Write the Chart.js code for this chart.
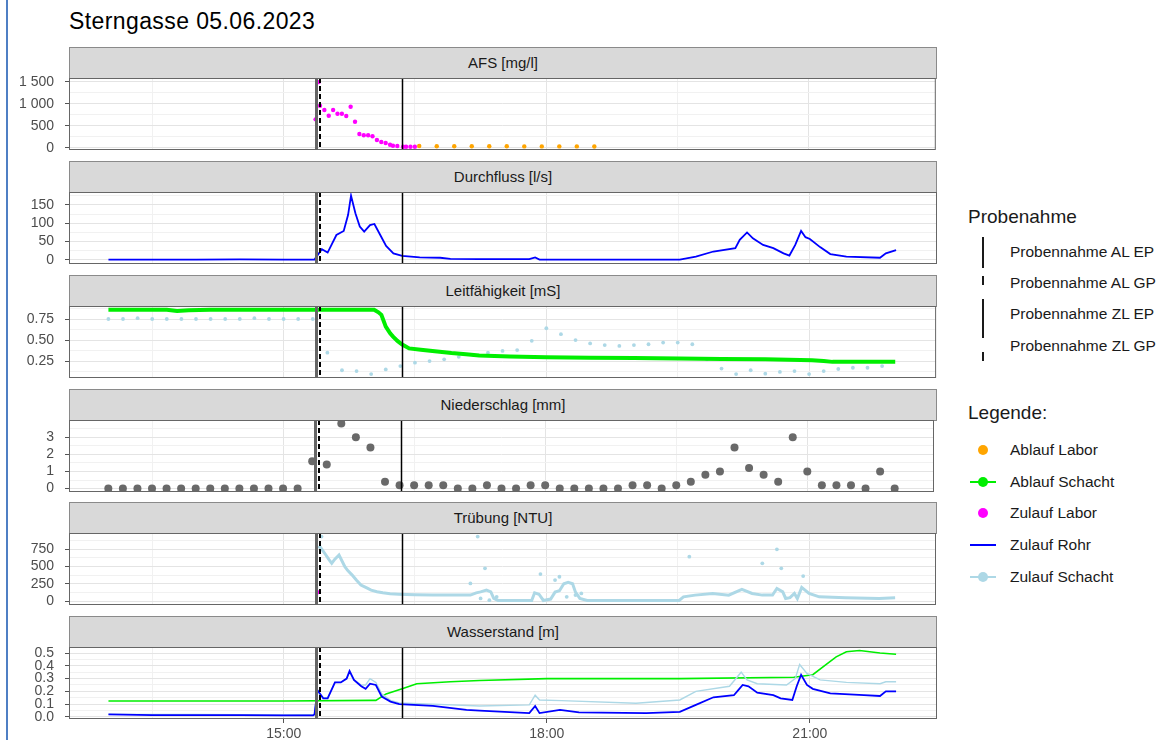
<!DOCTYPE html>
<html lang="de">
<head>
<meta charset="UTF-8">
<title>Sterngasse 05.06.2023</title>
<script src="https://cdn.jsdelivr.net/npm/chart.js"></script>
<style>
  body { margin: 0; width: 1167px; height: 740px; overflow: hidden; background: #fff; position: relative;
         font-family: "Liberation Sans", Arial, sans-serif; color: #1a1a1a; }
  .frame { position: absolute; left: 6px; top: 0; width: 2px; height: 740px; background: #4f7fc4; }
  .title { position: absolute; left: 69px; top: 7px; font-size: 23px; letter-spacing: 0.4px; line-height: 28px; color: #000; }
  .strip { position: absolute; left: 69px; width: 866px; height: 30px; background: #d9d9d9;
           border: 1px solid #8a8a8a; text-align: center; font-size: 15px; line-height: 30px; }
  canvas { position: absolute; left: 0; }
  .lgt { position: absolute; left: 968px; font-size: 19px; line-height: 24px; }
  .lgi { position: absolute; left: 1010px; font-size: 15.5px; line-height: 20px; white-space: nowrap; }
  .vkey { position: absolute; left: 982px; width: 2px; height: 31px; }
  .hline { position: absolute; left: 970px; width: 26px; height: 2px; }
  .dot { position: absolute; width: 10px; height: 10px; border-radius: 50%; left: 978px; }
</style>
</head>
<body>
<div class="frame"></div>
<div class="title">Sterngasse 05.06.2023</div>

<div class="lgt" style="top:205px">Probenahme</div>
<div class="vkey" style="top:237px;background:#1a1a1a"></div>
<div class="lgi" style="top:242px">Probennahme AL EP</div>
<div class="vkey" style="top:268px;background:repeating-linear-gradient(to bottom, transparent 0 8px, #1a1a1a 8px 17px, transparent 17px 31px)"></div>
<div class="lgi" style="top:273px">Probennahme AL GP</div>
<div class="vkey" style="top:299px;background:#1a1a1a"></div>
<div class="lgi" style="top:304px">Probennahme ZL EP</div>
<div class="vkey" style="top:330px;background:repeating-linear-gradient(to bottom, #1a1a1a 0 8px, transparent 8px 22px, #1a1a1a 22px 31px)"></div>
<div class="lgi" style="top:336px">Probennahme ZL GP</div>

<div class="lgt" style="top:401px">Legende:</div>
<div class="dot" style="top:445px;background:#FFA500"></div>
<div class="lgi" style="top:440px">Ablauf Labor</div>
<div class="hline" style="top:481px;background:#00EE00"></div>
<div class="dot" style="top:477px;background:#00EE00"></div>
<div class="lgi" style="top:472px">Ablauf Schacht</div>
<div class="dot" style="top:508px;background:#FF00FF"></div>
<div class="lgi" style="top:503px">Zulauf Labor</div>
<div class="hline" style="top:544px;background:#0000FF"></div>
<div class="lgi" style="top:535px">Zulauf Rohr</div>
<div class="hline" style="top:576px;background:#ADD8E6"></div>
<div class="dot" style="top:572px;background:#ADD8E6"></div>
<div class="lgi" style="top:567px">Zulauf Schacht</div>

<script>
// ---- axes ----
const xGrid = ['13:30', '15:00', '16:30', '18:00', '19:30', '21:00'];
const xLabels = ['15:00', '18:00', '21:00'];
const xMin = '12:33', xMax = '22:27';

// ---- Probenahme (vertikale Linien) ----
const probeNames = ['Probennahme AL EP', 'Probennahme AL GP', 'Probennahme ZL EP', 'Probennahme ZL GP'];
const probeTimes = ['16:21', '15:25', '15:22', '15:25'];
const probeStyles = [
  { color: '#000', width: 1.5, dash: [] },
  { color: '#000', width: 2, dash: [5, 3] },
  { color: '#666', width: 3, dash: [] },
  { color: '#000', width: 2, dash: [5, 3] }
];

const panelTitles = ['AFS [mg/l]', 'Durchfluss [l/s]', 'Leitfähigkeit [mS]', 'Niederschlag [mm]', 'Trübung [NTU]', 'Wasserstand [m]'];

// ---- AFS ----
const afsTicks = [0, 500, 1000, 1500];
const afsZulaufLaborT = ['15:22','15:24','15:25','15:28','15:31','15:34','15:37','15:40','15:43','15:46','15:49','15:52','15:55','15:58','16:01','16:04','16:07','16:10','16:13','16:15','16:18','16:22','16:24','16:27','16:30'];
const afsZulaufLaborV = [645,1490,955,857,727,857,773,773,720,932,591,311,282,282,259,175,130,107,68,45,39,23,23,23,23];
const afsAblaufLaborT = ['16:33','16:45','16:57','17:09','17:21','17:33','17:45','17:57','18:09','18:21','18:33'];
const afsAblaufLaborV = [38,34,34,32,32,32,30,30,30,30,28];

// ---- Durchfluss ----
const qTicks = [0, 50, 100, 150];
const qRohrT = ['13:00','13:30','14:00','14:30','15:00','15:21','15:26','15:30','15:36','15:41','15:44','15:46','15:49','15:52','15:55','15:59','16:02','16:06','16:10','16:15','16:21','16:33','16:47','16:54','17:14','17:48','17:52','17:55','18:36','19:31','19:42','19:54','20:09','20:12','20:17','20:21','20:28','20:35','20:42','20:46','20:50','20:54','20:57','21:00','21:07','21:14','21:25','21:48','21:52','21:59'];
const qRohrV = [1,1,1,1.5,1,1,29,20,68,79,123,175,127,91,77,95,98,68,38,18,11,7,6,3,2,2,7,1,1,1,9,23,32,55,75,59,41,32,18,12,41,79,62,57,35,16,9,6,18,27];

// ---- Leitfähigkeit ----
const lfTicks = [0.25, 0.5, 0.75];
const lfAblaufT = ['13:00','13:20','13:40','13:47','13:55','14:10','14:30','14:50','15:10','15:30','15:50','16:02','16:05','16:07','16:10','16:13','16:15','16:18','16:21','16:26','16:34','16:42','16:55','17:05','17:14','17:35','18:00','18:30','19:00','19:31','20:00','20:30','21:02','21:10','21:16','21:30','21:45','21:59'];
const lfAblaufV = [0.86,0.86,0.86,0.845,0.855,0.86,0.86,0.86,0.86,0.86,0.86,0.86,0.83,0.80,0.66,0.58,0.54,0.49,0.45,0.40,0.385,0.37,0.345,0.33,0.315,0.305,0.295,0.29,0.285,0.28,0.275,0.27,0.26,0.25,0.24,0.24,0.24,0.24];
const lfZulaufT = ['13:00','13:10','13:20','13:30','13:40','13:50','14:00','14:10','14:20','14:30','14:40','14:50','15:00','15:10','15:20','15:30','15:40','15:50','16:00','16:10','16:20','16:30','16:40','16:50','17:00','17:10','17:20','17:30','17:40','17:50','18:00','18:10','18:20','18:30','18:40','18:50','19:00','19:10','19:20','19:30','19:40','19:50','20:00','20:10','20:20','20:30','20:40','20:50','21:00','21:10','21:20','21:30','21:40','21:50'];
const lfZulaufV = [0.75,0.75,0.76,0.75,0.75,0.75,0.75,0.75,0.75,0.75,0.76,0.75,0.75,0.75,0.75,0.35,0.14,0.13,0.095,0.15,0.19,0.23,0.25,0.27,0.30,0.32,0.35,0.37,0.38,0.49,0.64,0.57,0.50,0.46,0.44,0.43,0.44,0.45,0.47,0.47,0.45,0.27,0.16,0.095,0.14,0.10,0.12,0.13,0.095,0.13,0.155,0.17,0.17,0.19];

// ---- Niederschlag ----
const nTicks = [0, 1, 2, 3];
const nT = ['13:00','13:10','13:20','13:30','13:40','13:50','14:00','14:10','14:20','14:30','14:40','14:50','15:00','15:10','15:20','15:30','15:40','15:50','16:00','16:10','16:20','16:30','16:40','16:50','17:00','17:10','17:20','17:30','17:40','17:50','18:00','18:10','18:20','18:30','18:40','18:50','19:00','19:10','19:20','19:30','19:40','19:50','20:00','20:10','20:20','20:30','20:40','20:50','21:00','21:10','21:20','21:30','21:40','21:50','22:00'];
const nV = [0,0,0,0,0,0,0,0,0,0,0,0,0,0,1.6,1.4,3.8,3.0,2.4,0.4,0.2,0.2,0.2,0.2,0,0,0.2,0,0,0.2,0.2,0,0,0,0,0,0.2,0.2,0,0.2,0.4,0.8,1.0,2.4,1.2,0.8,0.4,3.0,1.0,0.2,0.2,0.2,0,1.0,0];

// ---- Trübung ----
const tTicks = [0, 250, 500, 750];
const tZulaufLaborT = ['15:24'];
const tZulaufLaborV = [130];
const tSchachtT = ['15:24','15:25','15:29','15:31','15:33','15:35','15:38','15:42','15:44','15:47','15:50','15:53','15:57','16:00','16:04','16:08','16:13','16:19','16:30','16:42','16:55','17:08','17:12','17:15','17:19','17:22','17:24','17:27','17:40','17:50','17:52','17:55','17:58','18:03','18:06','18:09','18:12','18:15','18:18','18:20','18:23','18:28','18:45','19:00','19:15','19:31','19:34','19:42','19:54','20:05','20:14','20:21','20:28','20:35','20:38','20:42','20:44','20:47','20:50','20:52','20:55','21:00','21:07','21:25','21:48','21:59'];
const tSchachtV = [760,784,664,600,544,600,664,495,440,375,300,231,190,159,135,120,108,101,92,87,87,87,120,134,159,134,40,10,10,10,120,100,10,30,130,150,250,270,250,130,40,10,10,10,10,10,62,87,111,87,169,111,87,87,183,134,39,50,111,39,198,111,62,48,39,48];
const tSchachtPeakT = ['15:26','17:08','17:13','17:15','17:18','17:21','17:26','17:56','18:06','18:09','18:14','18:20','18:24','19:38','20:28','20:38','20:41','20:56'];
const tSchachtPeakV = [928,255,928,39,472,14,62,390,303,351,62,87,111,640,544,746,472,361];

// ---- Wasserstand ----
const wTicks = [0, 0.1, 0.2, 0.3, 0.4, 0.5];
const wAblaufT = ['13:00','14:00','15:00','16:00','16:03','16:10','16:21','16:31','16:54','17:14','18:00','19:31','20:49','21:02','21:11','21:18','21:25','21:34','21:48','21:59'];
const wAblaufV = [0.125,0.125,0.125,0.13,0.13,0.18,0.22,0.26,0.275,0.285,0.30,0.30,0.31,0.33,0.41,0.47,0.51,0.52,0.50,0.49];
const wRohrT = ['13:00','13:30','14:00','14:30','15:00','15:20','15:21','15:23','15:27','15:30','15:35','15:39','15:43','15:45','15:48','15:53','15:56','15:59','16:03','16:07','16:13','16:19','16:42','17:05','17:14','17:48','17:52','17:55','18:09','18:22','19:08','19:31','19:42','19:54','20:08','20:11','20:14','20:18','20:24','20:35','20:40','20:48','20:51','20:54','20:58','21:02','21:14','21:37','21:48','21:52','21:59'];
const wRohrV = [0.02,0.015,0.015,0.015,0.012,0.012,0.02,0.21,0.146,0.146,0.27,0.27,0.30,0.36,0.29,0.24,0.22,0.26,0.25,0.16,0.12,0.10,0.086,0.055,0.05,0.03,0.086,0.03,0.055,0.036,0.03,0.04,0.094,0.154,0.17,0.21,0.25,0.24,0.19,0.17,0.146,0.133,0.24,0.33,0.25,0.22,0.185,0.17,0.164,0.20,0.20];
const wSchachtT = ['13:00','14:00','15:00','15:21','15:23','15:27','15:30','15:35','15:39','15:43','15:45','15:48','15:53','15:56','15:59','16:03','16:07','16:13','16:19','16:42','17:14','17:48','17:52','17:55','18:10','19:01','19:31','19:42','20:05','20:13','20:17','20:24','20:44','20:50','20:53','20:58','21:07','21:25','21:48','21:52','21:59'];
const wSchachtV = [0.02,0.02,0.015,0.02,0.20,0.15,0.15,0.27,0.27,0.30,0.35,0.29,0.25,0.25,0.30,0.27,0.18,0.13,0.11,0.10,0.086,0.094,0.17,0.133,0.128,0.107,0.133,0.20,0.24,0.35,0.29,0.26,0.25,0.30,0.41,0.34,0.29,0.27,0.26,0.275,0.275];

// ---- colours ----
const cAblaufLabor = '#FFA500', cAblaufSchacht = '#00EE00', cZulaufLabor = '#FF00FF',
      cZulaufRohr = '#0000FF', cZulaufSchacht = '#ADD8E6', cRain = '#696969';

// ---- helpers ----
const toH = s => { const [h, m] = s.split(':').map(Number); return h + m / 60; };
const fmtH = v => { const h = Math.floor(v + 1e-6); const m = Math.round((v - h) * 60); return String(h).padStart(2, '0') + ':' + String(m).padStart(2, '0'); };
const pts = (T, V) => T.map((t, i) => ({ x: toH(t), y: V[i] }));
const thousands = v => String(v).replace(/\B(?=(\d{3})+(?!\d))/g, ' ');

const dots = (data, color, r) => ({ data, showLine: false, pointRadius: r, pointHoverRadius: r,
  pointBackgroundColor: color, pointBorderWidth: 0 });
const line = (data, color, w) => ({ data, showLine: true, borderColor: color, borderWidth: w,
  pointRadius: 0, pointHoverRadius: 0, tension: 0 });

Chart.defaults.font.family = '"Liberation Sans", Arial, sans-serif';

const gridColor = c => (c.tick && c.tick.minor) ? '#f1f1f1' : '#e4e4e4';
const tickColor = c => (c.tick && c.tick.minor) ? 'rgba(0,0,0,0)' : '#555';

function yScale(min, max, majors, fmt) {
  return {
    min, max,
    afterBuildTicks(s) {
      const step = majors[1] - majors[0];
      const t = [];
      if (majors[0] - step / 2 >= min) t.push({ value: majors[0] - step / 2, minor: true });
      majors.forEach((v, i) => {
        t.push({ value: v });
        const nxt = i < majors.length - 1 ? (v + majors[i + 1]) / 2 : v + step / 2;
        if (nxt <= max) t.push({ value: nxt, minor: true });
      });
      s.ticks = t;
    },
    afterFit(s) { s.width = 69; s.paddingTop = 0; s.paddingBottom = 0; },
    ticks: { autoSkip: false, padding: 11, color: '#4d4d4d', font: { size: 14 },
             callback: (v, i, t) => t[i].minor ? '' : fmt(v) },
    grid: { color: gridColor, tickColor: tickColor, tickLength: 4, lineWidth: 1 },
    border: { display: false }
  };
}

function xScale(showLabels) {
  return {
    type: 'linear', min: toH(xMin), max: toH(xMax),
    afterBuildTicks(s) { s.ticks = xGrid.map(t => ({ value: toH(t), minor: !xLabels.includes(t) })); },
    afterFit(s) { s.height = showLabels ? 26 : 0; s.paddingLeft = 0; s.paddingRight = 0; },
    ticks: { display: showLabels, autoSkip: false, maxRotation: 0, padding: 3, color: '#4d4d4d',
             font: { size: 14 }, callback: (v, i, t) => t[i].minor ? '' : fmtH(v) },
    grid: { color: gridColor, tickColor: tickColor, tickLength: 4, drawTicks: showLabels, lineWidth: 1 },
    border: { display: false }
  };
}

// vertikale Probenahme-Linien und Panelrahmen
const panelDeco = {
  id: 'panelDeco',
  afterDatasetsDraw(chart) {
    const { ctx, chartArea: a, scales: { x } } = chart;
    ctx.save();
    ctx.beginPath(); ctx.rect(a.left, a.top, a.width, a.height); ctx.clip();
    probeTimes.forEach((t, i) => {
      const st = probeStyles[i];
      let px = Math.round(x.getPixelForValue(toH(t)));
      if (st.width % 2 === 1 || st.width === 1.5) px += 0.5;
      ctx.strokeStyle = st.color; ctx.lineWidth = st.width; ctx.setLineDash(st.dash);
      ctx.beginPath(); ctx.moveTo(px, a.top); ctx.lineTo(px, a.bottom); ctx.stroke();
    });
    ctx.restore();
    ctx.save();
    ctx.strokeStyle = '#666'; ctx.lineWidth = 1;
    ctx.strokeRect(a.left + 0.5, a.top + 0.5, a.width - 1, a.height - 1);
    ctx.restore();
  }
};

const panels = [
  { range: [-52, 1584], majors: afsTicks, fmt: thousands, datasets: [
      dots(pts(afsZulaufLaborT, afsZulaufLaborV), cZulaufLabor, 2.2),
      dots(pts(afsAblaufLaborT, afsAblaufLaborV), cAblaufLabor, 2.2) ] },
  { range: [-11, 185], majors: qTicks, fmt: v => String(v), datasets: [
      line(pts(qRohrT, qRohrV), cZulaufRohr, 1.8) ] },
  { range: [0.048, 0.905], majors: lfTicks, fmt: v => v.toFixed(2), datasets: [
      line(pts(lfAblaufT, lfAblaufV), cAblaufSchacht, 4),
      dots(pts(lfZulaufT, lfZulaufV), cZulaufSchacht, 1.9) ] },
  { range: [-0.2, 4.0], majors: nTicks, fmt: v => String(v), datasets: [
      dots(pts(nT, nV), cRain, 4) ] },
  { range: [-55, 980], majors: tTicks, fmt: v => String(v), datasets: [
      dots(pts(tZulaufLaborT, tZulaufLaborV), cZulaufLabor, 2),
      dots(pts(tSchachtPeakT, tSchachtPeakV), cZulaufSchacht, 1.9),
      line(pts(tSchachtT, tSchachtV), cZulaufSchacht, 3) ] },
  { range: [-0.016, 0.547], majors: wTicks, fmt: v => v.toFixed(1), datasets: [
      line(pts(wRohrT, wRohrV), cZulaufRohr, 1.8),
      line(pts(wSchachtT, wSchachtV), cZulaufSchacht, 1.4),
      line(pts(wAblaufT, wAblaufV), cAblaufSchacht, 1.6) ] }
];

const stripTops = [47, 161, 275, 389, 502, 616];
const stripH = 31, plotH = 72;

panels.forEach((p, i) => {
  const last = i === panels.length - 1;
  const strip = document.createElement('div');
  strip.className = 'strip';
  strip.style.top = stripTops[i] + 'px';
  strip.textContent = panelTitles[i];
  document.body.appendChild(strip);

  const cv = document.createElement('canvas');
  cv.width = 938;
  cv.height = 8 + plotH + (last ? 26 : 8);
  cv.style.top = (stripTops[i] + stripH - 8) + 'px';
  document.body.appendChild(cv);

  new Chart(cv, {
    type: 'scatter',
    data: { datasets: p.datasets },
    options: {
      responsive: false, animation: false,
      layout: { padding: { top: 8, bottom: last ? 0 : 8, left: 0, right: 1 } },
      plugins: { legend: { display: false }, tooltip: { enabled: false } },
      scales: { x: xScale(last), y: yScale(p.range[0], p.range[1], p.majors, p.fmt) }
    },
    plugins: [panelDeco]
  });
});
</script>
</body>
</html>
